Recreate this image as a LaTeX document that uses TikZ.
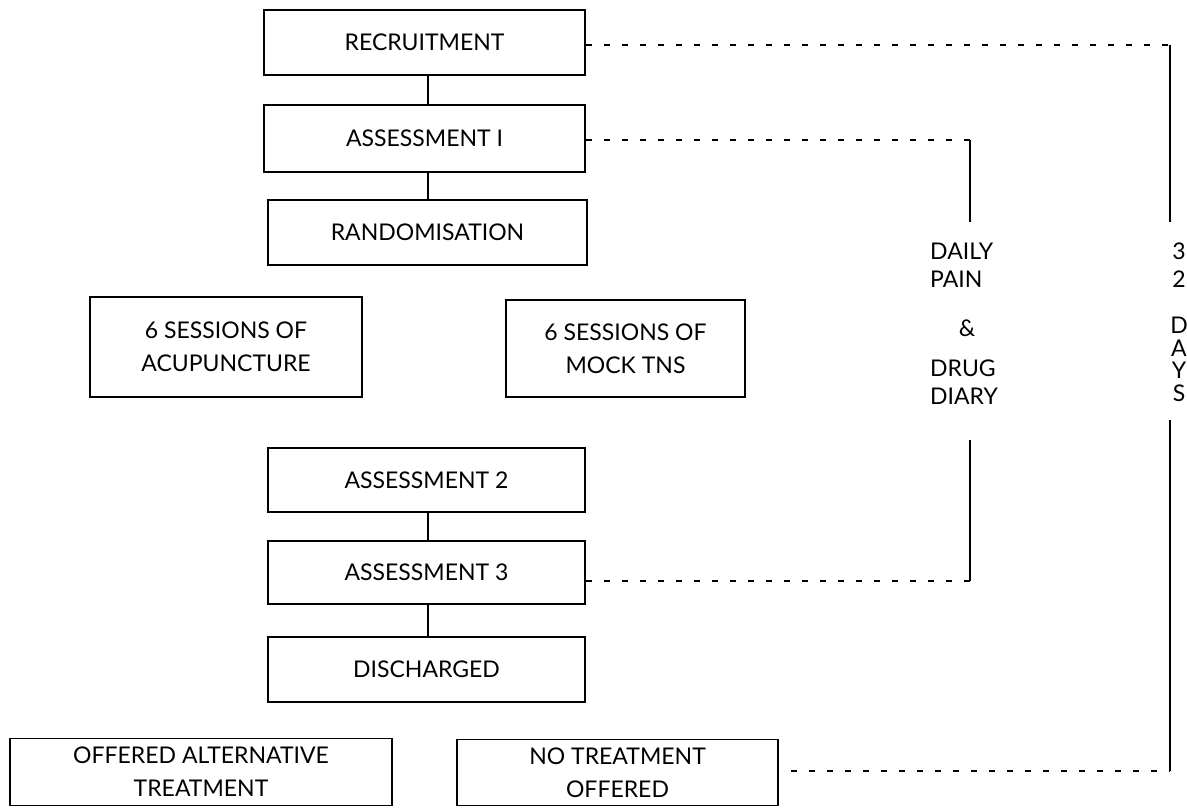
\documentclass[tikz,border=0pt]{standalone}
\usepackage{fontspec}
\setmainfont{Lato}
\begin{document}
\begin{tikzpicture}[x=1pt,y=-1pt,
  every node/.style={font=\fontsize{23}{33}\selectfont},
  bx/.style={draw, line width=1.6pt, inner sep=0pt, align=center},
  link/.style={line width=1.3pt},
  dsh/.style={line width=1.6pt, dash pattern=on 6pt off 12pt},
  side/.style={line width=1.8pt},
  lbl/.style={inner sep=0pt, align=left, font=\fontsize{23}{28}\selectfont}]
\useasboundingbox (0,0) rectangle (1187,807);
\node[bx, minimum width=321, minimum height=65] (rec) at (424.5,42.5) {RECRUITMENT};
\node[bx, minimum width=321, minimum height=67] (a1) at (424.5,138.5) {ASSESSMENT I};
\node[bx, minimum width=319, minimum height=65] (rand) at (427.5,232.5) {RANDOMISATION};
\node[bx, minimum width=272, minimum height=100] (acu) at (226,347) {6 SESSIONS OF\\ACUPUNCTURE};
\node[bx, minimum width=239, minimum height=97] (mock) at (625.5,348.5) {6 SESSIONS OF\\MOCK TNS};
\node[bx, minimum width=317, minimum height=64] (a2) at (426.5,480) {ASSESSMENT 2};
\node[bx, minimum width=317, minimum height=63] (a3) at (426.5,572.5) {ASSESSMENT 3};
\node[bx, minimum width=317, minimum height=65] (dis) at (426.5,669.5) {DISCHARGED};
\node[bx, minimum width=382, minimum height=67] (off) at (201,772) {OFFERED ALTERNATIVE\\TREATMENT};
\node[bx, minimum width=321, minimum height=66] (not) at (617.5,772.5) {NO TREATMENT\\OFFERED};

\coordinate (mx) at (428,0);
\draw[link] (rec.south -| mx) -- (a1.north -| mx);
\draw[link] (a1.south -| mx) -- (rand.north -| mx);
\draw[link] (a2.south -| mx) -- (a3.north -| mx);
\draw[link] (a3.south -| mx) -- (dis.north -| mx);

% diary column
\node[lbl, anchor=north west] (dp) at (930,243) {DAILY\\PAIN};
\node[lbl] (amp) at (967,328) {\&};
\node[lbl, anchor=north west] (dd) at (930,360) {DRUG\\DIARY};
\coordinate (c1) at (970,140);
\coordinate (c2) at (970,222);
\coordinate (c3) at (970,440);
\coordinate (c4) at (970,581);
\draw[side] (c1) -- (c2);
\draw[side] (c3) -- (c4);
\draw[dsh] (a1.east |- c1) -- (c1);
\draw[dsh] (a3.east |- c4) -- (c4);

% days column
\node[lbl, align=center, anchor=north] (days) at (1179,243) {3\\2};
\node[lbl, align=center, anchor=north, font=\fontsize{23}{22.5}\selectfont] (days2) at (1179,317) {D\\A\\Y\\S};
\coordinate (d1) at (1170,45);
\coordinate (d2) at (1170,222);
\coordinate (d3) at (1170,420);
\coordinate (d4) at (1170,771);
\draw[side] (d1) -- (d2);
\draw[side] (d3) -- (d4);
\draw[dsh] (rec.east |- d1) -- (d1);
\draw[dsh] (not.east |- d4) ++(12,0) -- (d4);
\end{tikzpicture}
\end{document}
